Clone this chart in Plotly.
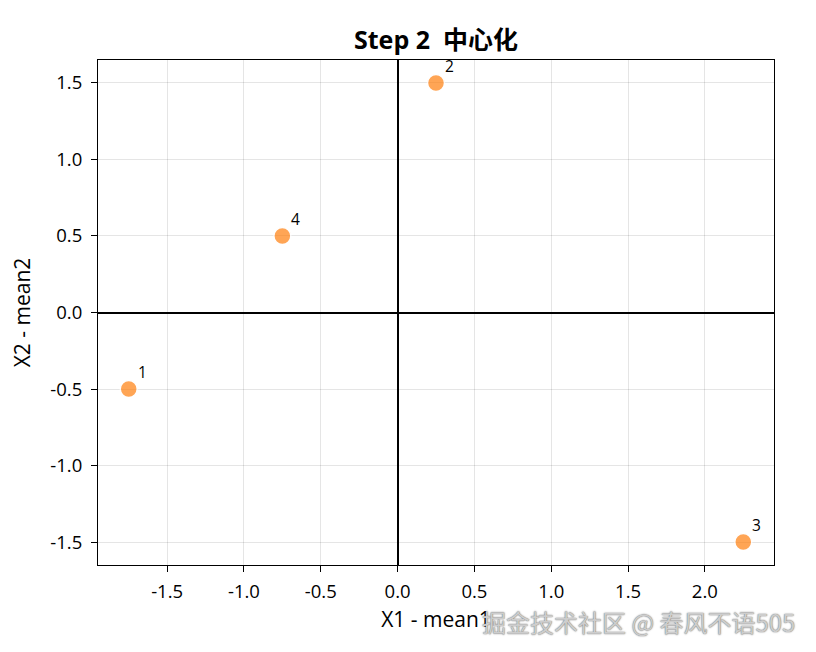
import plotly.graph_objects as go

labels = ["1", "2", "3", "4"]
x_vals = [-1.75, 0.25, 2.25, -0.75]
y_vals = [-0.5, 1.5, -1.5, 0.5]

x_ticks = [-1.5, -1.0, -0.5, 0.0, 0.5, 1.0, 1.5, 2.0]
y_ticks = [-1.5, -1.0, -0.5, 0.0, 0.5, 1.0, 1.5]
x_ticktext = ["-1.5", "-1.0", "-0.5", "0.0", "0.5", "1.0", "1.5", "2.0"]
y_ticktext = ["-1.5", "-1.0", "-0.5", "0.0", "0.5", "1.0", "1.5"]

title = "Step 2  中心化"
x_title = "X1 - mean1"
y_title = "X2 - mean2"
watermark = "掘金技术社区 @ 春风不语505"

FONT = "Open Sans, Noto Sans CJK SC, sans-serif"
CJK = "Noto Sans CJK SC, sans-serif"

fig = go.Figure()
fig.add_trace(go.Scatter(
    x=x_vals, y=y_vals, mode="markers",
    marker=dict(size=17, color="#ff7f0e", opacity=0.7,
                line=dict(color="white", width=1.5)),
    hoverinfo="skip", showlegend=False,
))

for lab, xv, yv in zip(labels, x_vals, y_vals):
    fig.add_annotation(x=xv, y=yv, text=lab, showarrow=False,
                       xanchor="left", yanchor="bottom", xshift=7, yshift=4,
                       font=dict(size=15.5, color="black", family=FONT))

axis_common = dict(
    showgrid=True, gridcolor="rgba(0,0,0,0.1)", gridwidth=1,
    zeroline=True, zerolinecolor="black", zerolinewidth=1.6,
    showline=True, linecolor="black", linewidth=1, mirror=True,
    ticks="outside", ticklen=6, tickwidth=1, tickcolor="black",
    tickfont=dict(size=18.5, color="black", family=FONT),
)

fig.update_xaxes(range=[-1.95, 2.45], tickvals=x_ticks, ticktext=x_ticktext,
                 ticklabelstandoff=4,
                 title=dict(text=x_title, font=dict(size=21, color="black", family=FONT), standoff=10),
                 **axis_common)
fig.update_yaxes(range=[-1.65, 1.65], tickvals=y_ticks, ticktext=y_ticktext,
                 ticklabelstandoff=5,
                 title=dict(text=y_title, font=dict(size=21, color="black", family=FONT), standoff=14),
                 **axis_common)

fig.add_annotation(xref="paper", yref="paper", x=1.034, y=-0.111, xanchor="right", yanchor="middle",
                   text=watermark, showarrow=False,
                   font=dict(size=24, color="rgba(205,205,205,1)", family=CJK,
                             shadow="0px 0px 1.5px rgba(50,50,50,0.9)"))

fig.update_layout(
    width=808, height=644,
    margin=dict(l=90, r=42, t=52, b=87),
    paper_bgcolor="white", plot_bgcolor="white",
    title=dict(text="<b>" + title + "</b>", x=0.5, xref="paper", xanchor="center",
               y=1 - 32 / 644, yanchor="middle",
               font=dict(size=25, color="black", family=FONT)),
)

fig.write_html("out.html")
